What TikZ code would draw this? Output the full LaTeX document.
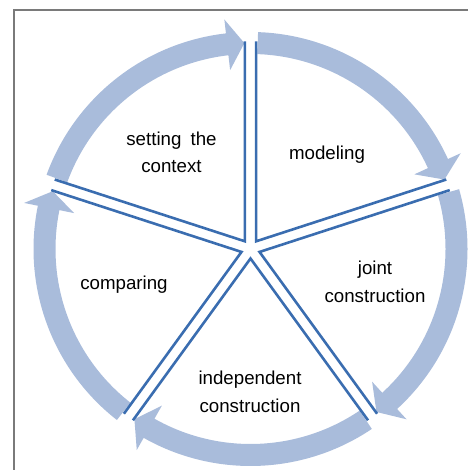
\documentclass[tikz,border=0pt]{standalone}
\usepackage{fontspec}
\setmainfont{Liberation Sans}
\usetikzlibrary{calc}
\definecolor{bandblue}{HTML}{A9BCDB}
\definecolor{spokeblue}{HTML}{3A6DB0}
\definecolor{framegray}{HTML}{7A7A7A}
\begin{document}
\begin{tikzpicture}[x=1pt,y=1pt,
  band/.style={fill=bandblue},
  spoke/.style={draw=spokeblue,line width=2.6pt,line join=miter},
  frameline/.style={draw=framegray,line width=1.6pt},
  lbl/.style={inner sep=0pt,anchor=base,font=\fontsize{18.7}{27}\selectfont}]
\useasboundingbox (-250.5,-221) rectangle (217.5,249);
% frame
\coordinate (fr1) at (-236.5,-221);
\coordinate (fr2) at (-236.5,239);
\coordinate (fr3) at (217.5,239);
\draw[frameline] (fr1) -- (fr2) -- (fr3);
% arrows
\foreach \a in {90,18,-54,-126,-198}{
  \pgfmathsetmacro{\s}{\a-2}
  \pgfmathsetmacro{\e}{\a-72+6.5}
  \pgfmathsetmacro{\t}{\a-72+1.7}
  \fill[band] (\s:195pt) arc[start angle=\s, end angle=\e, radius=195pt]
    -- (\e:180pt) -- (\t:206pt) -- (\e:231pt) -- (\e:217pt)
    arc[start angle=\e, end angle=\s, radius=217pt] -- cycle;
}
% sectors
\foreach \a in {90,18,-54,-126,-198}{
  \pgfmathsetmacro{\b}{\a-36}
  \pgfmathsetmacro{\c}{\a-72}
  \coordinate (v) at (\b:9.5pt);
  \draw[spoke] ($(v)+(\a:200pt)$) -- (v) -- ($(v)+(\c:200pt)$);
}
% labels
\node[lbl] (t1a) at (-79,103) {setting\hspace{4pt} the};
\node[lbl] (t1b) at (-79,76) {context};
\node[lbl] (t2) at (76.5,89) {modeling};
\node[lbl] (t3a) at (124.5,-26) {joint};
\node[lbl] (t3b) at (124.5,-54) {construction};
\node[lbl] (t4a) at (-0.5,-135) {independent};
\node[lbl] (t4b) at (-0.5,-163) {construction};
\node[lbl] (t5) at (-126.5,-41) {comparing};
\end{tikzpicture}
\end{document}
